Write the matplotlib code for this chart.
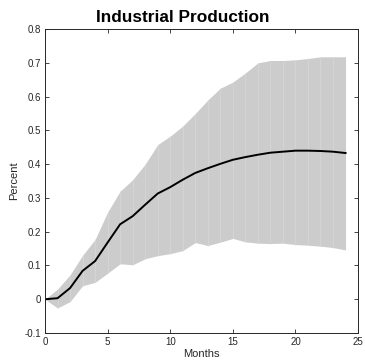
import numpy as np
import matplotlib
matplotlib.use('Agg')
import matplotlib.pyplot as plt

plt.rcParams['font.family'] = ['Liberation Sans', 'DejaVu Sans']

# impulse response of industrial production with confidence band
months = np.arange(0, 25)
irf = [0.0, 0.003, 0.033, 0.084, 0.113, 0.168, 0.222, 0.246, 0.28, 0.313,
       0.332, 0.354, 0.374, 0.388, 0.401, 0.413, 0.421, 0.428, 0.434, 0.437,
       0.44, 0.44, 0.439, 0.437, 0.433]
upper = [0.0, 0.03, 0.072, 0.13, 0.177, 0.258, 0.32, 0.354, 0.40, 0.458,
         0.483, 0.513, 0.55, 0.59, 0.625, 0.643, 0.67, 0.70, 0.707, 0.707,
         0.709, 0.713, 0.718, 0.718, 0.718]
lower = [0.0, -0.026, -0.007, 0.04, 0.05, 0.077, 0.105, 0.102, 0.12, 0.129,
         0.135, 0.144, 0.168, 0.159, 0.169, 0.18, 0.17, 0.166, 0.165, 0.166,
         0.162, 0.16, 0.157, 0.153, 0.146]

fig = plt.figure(figsize=(3.65, 3.64), dpi=100)
ax = fig.add_axes([0.1233, 0.0852, 0.8577, 0.8348])

ax.fill_between(months, lower, upper, color='#cccccc', linewidth=0)
# faint patch seams at each month
ax.vlines(months[1:-1], lower[1:-1], upper[1:-1], color='#d8d8d8', linewidth=0.5)
ax.plot(months, irf, color='black', linewidth=1.4)

ax.set_xlim(0, 25)
ax.set_ylim(-0.1, 0.8)
ax.set_xticks([0, 5, 10, 15, 20, 25])
ax.set_yticks(np.round(np.arange(-0.1, 0.81, 0.1), 1))
ax.set_yticklabels(['-0.1', '0', '0.1', '0.2', '0.3', '0.4', '0.5', '0.6', '0.7', '0.8'])
ax.tick_params(direction='in', top=True, right=True, labelsize=7,
               length=3, width=0.6, colors='#262626', pad=3)
for s in ax.spines.values():
    s.set_linewidth(0.7)
    s.set_color('#262626')

ax.set_xlabel('Months', fontsize=8, labelpad=1, color='#262626')
ax.set_ylabel('Percent', fontsize=8, labelpad=4, color='#262626')
fig.text(0.5, 0.94, 'Industrial Production', fontsize=12.4, fontweight='bold',
         ha='center', va='baseline')

fig.savefig('out.png', dpi=100)
